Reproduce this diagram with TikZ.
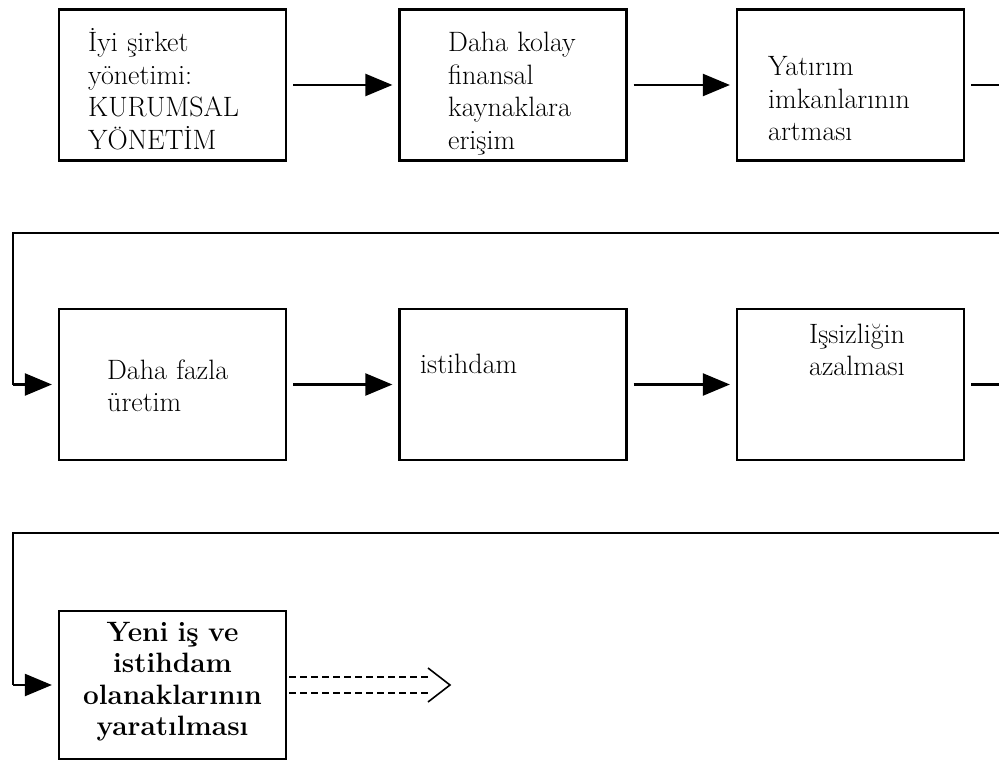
\documentclass[tikz,border=0pt]{standalone}
\usepackage{fontspec}
\usetikzlibrary{arrows.meta}
\tikzset{
  box/.style={draw, line width=2.2pt, rectangle, inner sep=0pt, minimum width=227pt, minimum height=151pt},
  txt/.style={inner sep=0pt, text width=215pt, align=left, anchor=base west, font=\fontsize{28}{32.5}\selectfont},
  btxt/.style={inner sep=0pt, text width=215pt, align=center, anchor=base, font=\fontsize{28}{31.5}\selectfont\bfseries},
  arr/.style={line width=2.2pt, -{Triangle[length=27pt,width=22pt]}, shorten <=6pt, shorten >=6pt},
  link/.style={line width=2.2pt},
  dsh/.style={line width=1.6pt, dash pattern=on 7pt off 4pt},
}
\begin{document}
\begin{tikzpicture}[x=1pt,y=-1pt]
\useasboundingbox (0,0) rectangle (999,760);
\clip (0,0) rectangle (999,760);
% row 1
\node[box] (b1) at (172.5,85) {};
\node[box] (b2) at (513,85) {};
\node[box] (b3) at (850.5,85) {};
% row 2
\node[box] (b4) at (172.5,384.5) {};
\node[box] (b5) at (513,384.5) {};
\node[box] (b6) at (850.5,384.5) {};
% row 3
\node[box, minimum height=148pt] (b7) at (172.5,685) {};
% texts
\node[txt] (t1) at (88,52) {İyi şirket\\yönetimi:\\KURUMSAL\\YÖNETİM};
\node[txt] (t2) at (448,52) {Daha kolay\\finansal\\kaynaklara\\erişim};
\node[txt] (t3) at (768,76) {Yatırım\\imkanlarının\\artması};
\node[txt] (t4) at (107,379) {Daha fazla\\üretim};
\node[txt] (t5) at (420,373) {istihdam};
\node[txt] (t6) at (809,343) {Işsizliğin\\azalması};
\node[btxt] (t7) at (172.5,641) {Yeni iş ve\\istihdam\\olanaklarının\\yaratılması};
% connectors row 1
\draw[arr] (b1.east) -- (b2.west);
\draw[arr] (b2.east) -- (b3.west);
% wrap to row 2
\coordinate (r1a) at (1010,85);
\coordinate (r1b) at (1010,233);
\coordinate (r1c) at (13,233);
\coordinate (r1d) at (13,384.5);
\draw[link] ([xshift=6pt]b3.east) -- (r1a) -- (r1b) -- (r1c) -- (r1d);
\draw[arr, shorten <=0pt] (r1d) -- (b4.west);
% row 2
\draw[arr] (b4.east) -- (b5.west);
\draw[arr] (b5.east) -- (b6.west);
% wrap to row 3
\coordinate (r2a) at (1010,384.5);
\coordinate (r2b) at (1010,533);
\coordinate (r2c) at (13,533);
\coordinate (r2d) at (13,685);
\draw[link] ([xshift=6pt]b6.east) -- (r2a) -- (r2b) -- (r2c) -- (r2d);
\draw[arr, shorten <=0pt] (r2d) -- (b7.west);
% dashed double arrow
\coordinate (dtip) at (450,685);
\draw[dsh] ([xshift=2pt,yshift=-8pt]b7.east) -- ([xshift=-20pt,yshift=-8pt]dtip);
\draw[dsh] ([xshift=2pt,yshift=8pt]b7.east) -- ([xshift=-20pt,yshift=8pt]dtip);
\draw[line width=1.6pt] ([xshift=-22pt,yshift=-17pt]dtip) -- (dtip) -- ([xshift=-22pt,yshift=17pt]dtip);
\end{tikzpicture}
\end{document}
